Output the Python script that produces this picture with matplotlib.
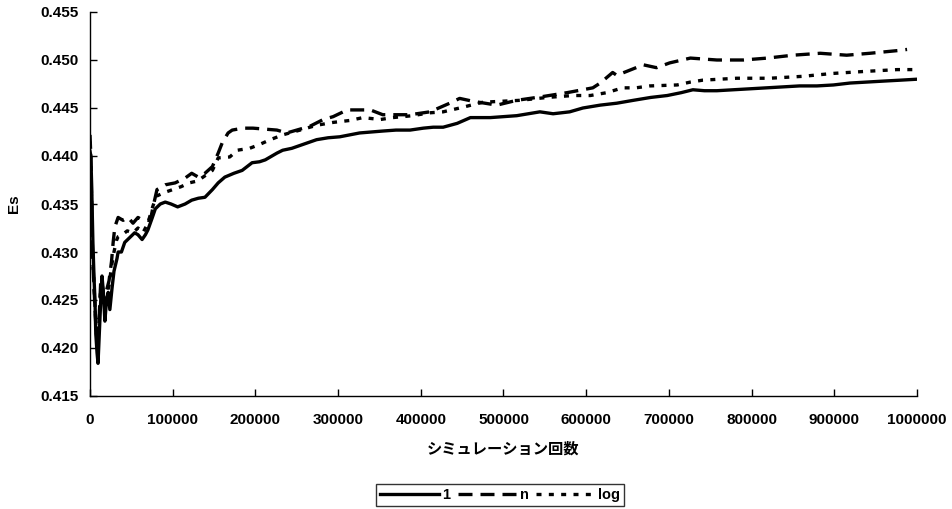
import matplotlib
matplotlib.use("Agg")
import matplotlib.pyplot as plt
import numpy as np

plt.rcParams['font.family'] = ['Liberation Sans', 'Noto Sans CJK JP', 'DejaVu Sans']

# Simulation counts (thousands) and Es values for each series
x_one = [0, 1, 2, 3.5, 5, 6, 7, 8.5, 9.7, 11, 13, 14.5, 16, 18, 20, 22, 24, 26.6, 29, 32.6,
         34, 38, 42, 48, 54, 58, 63, 67, 70, 75, 79, 85, 91, 98, 106, 115, 123, 131, 139,
         148, 155, 163, 174, 184, 196, 205, 212, 218, 226, 233, 244, 254, 264, 274, 288,
         302, 314, 326, 340, 354, 370, 387, 403, 415, 427, 444, 460, 472, 484, 500, 516,
         530, 544, 560, 580, 596, 617, 637, 657, 678, 698, 715, 729, 743, 758, 778, 798,
         818, 838, 858, 879, 899, 919, 939, 959, 980, 1000]
y_one = [0.4405, 0.4400, 0.4370, 0.4310, 0.4270, 0.4250, 0.4215, 0.4195, 0.4184, 0.4210,
         0.4250, 0.4275, 0.4260, 0.4228, 0.4250, 0.4258, 0.4240, 0.4262, 0.4280, 0.4293,
         0.4300, 0.4300, 0.4310, 0.4315, 0.4320, 0.4318, 0.4313, 0.4318, 0.4323, 0.4335,
         0.4345, 0.4350, 0.4352, 0.4350, 0.4347, 0.4350, 0.4354, 0.4356, 0.4357, 0.4365,
         0.4372, 0.4378, 0.4382, 0.4385, 0.4393, 0.4394, 0.4396, 0.4399, 0.4403, 0.4406,
         0.4408, 0.4411, 0.4414, 0.4417, 0.4419, 0.4420, 0.4422, 0.4424, 0.4425, 0.4426,
         0.4427, 0.4427, 0.4429, 0.4430, 0.4430, 0.4434, 0.4440, 0.4440, 0.4440, 0.4441,
         0.4442, 0.4444, 0.4446, 0.4444, 0.4446, 0.4450, 0.4453, 0.4455, 0.4458, 0.4461,
         0.4463, 0.4466, 0.4469, 0.4468, 0.4468, 0.4469, 0.4470, 0.4471, 0.4472, 0.4473,
         0.4473, 0.4474, 0.4476, 0.4477, 0.4478, 0.4479, 0.4480]

x_n = [0, 1, 2, 3, 5, 7, 9, 11, 13, 15, 18, 20, 23, 26, 28, 30, 34, 40, 46, 52, 58, 64,
       73, 76, 81, 91, 103, 115, 123, 131, 139, 148, 155, 160, 167, 172, 185, 197, 226,
       238, 266, 282, 294, 311, 323, 339, 354, 375, 387, 411, 435, 447, 463, 492, 516,
       548, 577, 608, 617, 632, 637, 669, 685, 701, 726, 758, 790, 819, 850, 883, 915,
       943, 979, 988]
y_n = [0.4422, 0.4400, 0.4350, 0.4300, 0.4260, 0.4225, 0.4200, 0.4230, 0.4270, 0.4265,
       0.4240, 0.4260, 0.4270, 0.4290, 0.4310, 0.4326, 0.4336, 0.4333, 0.4336, 0.4330,
       0.4336, 0.4333, 0.4333, 0.4346, 0.4365, 0.4370, 0.4372, 0.4377, 0.4382, 0.4378,
       0.4382, 0.4389, 0.4403, 0.4414, 0.4424, 0.4427, 0.4429, 0.4429, 0.4427, 0.4424,
       0.4431, 0.4438, 0.4441, 0.4448, 0.4448, 0.4448, 0.4443, 0.4443, 0.4443, 0.4446,
       0.4455, 0.4460, 0.4457, 0.4453, 0.4458, 0.4462, 0.4466, 0.4471, 0.4476, 0.4487,
       0.4484, 0.4495, 0.4492, 0.4497, 0.4502, 0.4500, 0.4500, 0.4502, 0.4505, 0.4507,
       0.4505, 0.4507, 0.4510, 0.4511]

x_log = [0, 1, 2, 3, 5, 7, 9, 11, 13, 15, 18, 20, 23, 26, 29, 32, 34, 39, 45, 52, 58, 64,
         70, 75, 80, 90, 100, 110, 120, 130, 140, 148, 155, 169, 178, 193, 205, 218, 233,
         254, 274, 294, 314, 330, 351, 366, 390, 411, 427, 447, 475, 520, 553, 584, 605,
         625, 644, 660, 677, 710, 726, 741, 782, 822, 862, 898, 935, 976, 998]
y_log = [0.4415, 0.4395, 0.4345, 0.4300, 0.4262, 0.4228, 0.4205, 0.4228, 0.4265, 0.4262,
         0.4238, 0.4255, 0.4265, 0.4285, 0.4300, 0.4312, 0.4316, 0.4318, 0.4322, 0.4320,
         0.4325, 0.4320, 0.4330, 0.4345, 0.4358, 0.4362, 0.4365, 0.4368, 0.4372, 0.4374,
         0.4380, 0.4385, 0.4398, 0.4399, 0.4406, 0.4408, 0.4412, 0.4417, 0.4422, 0.4427,
         0.4432, 0.4435, 0.4437, 0.4440, 0.4438, 0.4440, 0.4442, 0.4445, 0.4446, 0.4450,
         0.4456, 0.4458, 0.4461, 0.4463, 0.4463, 0.4466, 0.4471, 0.4471, 0.4473, 0.4474,
         0.4477, 0.4479, 0.4481, 0.4481, 0.4483, 0.4486, 0.4488, 0.4490, 0.4490]

series_labels = ['1', 'n', 'log']
x_ticks = [0, 100000, 200000, 300000, 400000, 500000, 600000, 700000, 800000, 900000, 1000000]
y_ticks = [0.415, 0.420, 0.425, 0.430, 0.435, 0.440, 0.445, 0.450, 0.455]

fig = plt.figure(figsize=(9.52, 5.09), dpi=100)
ax = fig.add_axes([90/952, 1-396/509, (917-90)/952, (396-12)/509])

lw = 2.4
ax.plot(np.array(x_one)*1000, y_one, color='black', lw=lw, solid_joinstyle='round',
        label=series_labels[0])
l2, = ax.plot(np.array(x_n)*1000, y_n, color='black', lw=lw, label=series_labels[1])
l2.set_dashes((4.2, 2.4))
l3, = ax.plot(np.array(x_log)*1000, y_log, color='black', lw=lw, label=series_labels[2])
l3.set_dashes((1.5, 2.2))

ax.set_xlim(0, 1000000)
ax.set_ylim(0.415, 0.455)
ax.set_xticks(x_ticks)
ax.set_xticklabels([str(v) for v in x_ticks])
ax.set_yticks(y_ticks)
ax.set_yticklabels([f"{v:.3f}" for v in y_ticks])
for s in ['top', 'right']:
    ax.spines[s].set_visible(False)
for s in ['left', 'bottom']:
    ax.spines[s].set_linewidth(1.0)
ax.tick_params(direction='in', length=5, width=1.0, labelsize=11, pad=8)
ax.tick_params(axis='x', pad=12)
for t in ax.get_xticklabels() + ax.get_yticklabels():
    t.set_fontweight('bold')

ax.set_ylabel('Es', fontsize=11, fontweight='bold', labelpad=14)
ax.set_xlabel('シミュレーション回数', fontsize=11, fontweight='bold',
              family=['Noto Sans CJK JP', 'DejaVu Sans'], labelpad=10)

leg = fig.legend(loc='center', bbox_to_anchor=(500/952, 1-495/509), ncol=3,
                 frameon=True, fancybox=False, handlelength=4.0, handletextpad=0.25,
                 columnspacing=0.5, borderpad=0.3, prop={'weight': 'bold', 'size': 10.5})
leg.get_frame().set_edgecolor('black')
leg.get_frame().set_linewidth(1.0)

fig.savefig('out.png', dpi=100)
